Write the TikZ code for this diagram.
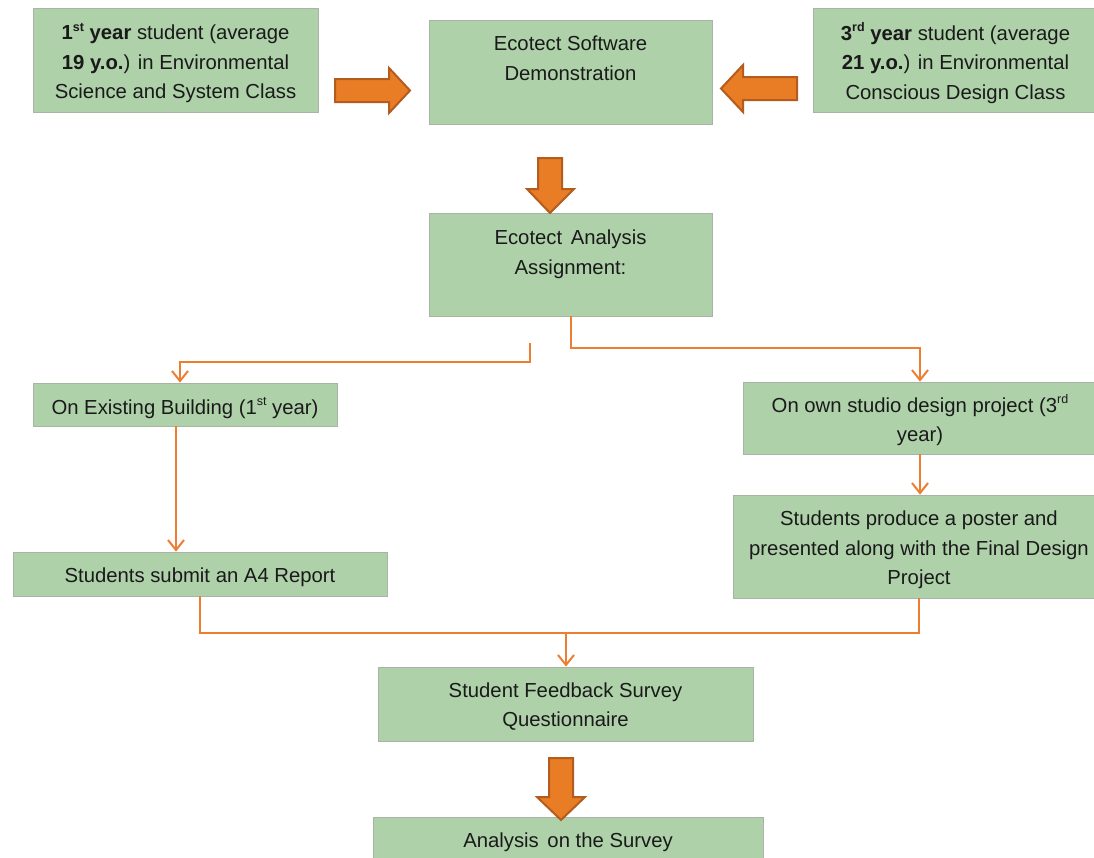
\documentclass[tikz,border=0pt]{standalone}
\usepackage{fontspec}
\setmainfont{Liberation Sans}
\usetikzlibrary{arrows.meta}
\definecolor{boxgreen}{HTML}{AED1A9}
\definecolor{boxedge}{HTML}{A8B5A5}
\definecolor{lineorange}{HTML}{ED7D31}
\definecolor{blockfill}{HTML}{E87D25}
\definecolor{blockedge}{HTML}{B35C1E}
\definecolor{txt}{HTML}{1A1A1A}
\newcommand{\supr}[1]{\raisebox{0.42em}{\fontsize{12.5}{12.5}\selectfont #1}}
\begin{document}
\begin{tikzpicture}[x=1pt,y=-1pt,
  box/.style={draw=boxedge, line width=0.8pt, fill=boxgreen, inner sep=0pt},
  lbl/.style={inner sep=0pt, align=center, text=txt, font=\fontsize{20.3}{29.5}\selectfont},
  conn/.style={draw=lineorange, line width=2pt, -{Straight Barb[length=10pt,width=16pt,line width=2pt]}},
  link/.style={draw=lineorange, line width=2pt},
  blockarrow/.style={fill=blockfill, draw=blockedge, line width=2pt, line join=miter}]
\useasboundingbox (0,0) rectangle (1094,857);
\fill[white] (0,0) rectangle (1094,857);
\clip (0,0) rectangle (1094,857);

\node[box, minimum width=285pt, minimum height=104pt] (b1) at (175.5,60) {};
\node[lbl] (b1t) at ([yshift=-3pt]b1.center) {\textbf{1\supr{st} year} student (average\\\textbf{19 y.o.}) in Environmental\\Science and System Class};
\node[box, minimum width=283pt, minimum height=104pt] (demo) at (570.5,72) {};
\node[lbl] (demot) at ([yshift=-5.5pt]demo.center) {Ecotect Software\\Demonstration\\\strut};
\node[box, minimum width=285pt, minimum height=104pt] (b3) at (955.5,60) {};
\node[lbl] (b3t) at ([yshift=-3pt]b3.center) {\textbf{3\supr{rd} year} student (average\\\textbf{21 y.o.}) in Environmental\\Conscious Design Class};
\node[box, minimum width=283pt, minimum height=103pt] (assign) at (570.5,264.5) {};
\node[lbl] (assignt) at ([yshift=-7pt]assign.center) {Ecotect\hspace{3pt} Analysis\\Assignment:\\\strut};
\node[box, minimum width=304pt, minimum height=43pt] (exist) at (185,404.5) {};
\node[lbl] (existt) at ([yshift=-3.5pt]exist.center) {On Existing Building (1\supr{st} year)};
\node[box, minimum width=354pt, minimum height=72pt] (own) at (920,418) {};
\node[lbl] (ownt) at ([yshift=-2.5pt]own.center) {On own studio design project (3\supr{rd}\\year)};
\node[box, minimum width=374pt, minimum height=44pt] (a4) at (200,574) {};
\node[lbl] (a4t) at ([yshift=-3.5pt]a4.center) {Students submit an A4 Report};
\node[box, minimum width=372pt, minimum height=103pt] (poster) at (919,546.5) {};
\node[lbl] (postert) at ([yshift=-3.5pt]poster.center) {Students produce a poster and\\presented along with the Final Design\\Project};
\node[box, minimum width=375pt, minimum height=74pt] (survey) at (565.5,704) {};
\node[lbl] (surveyt) at ([yshift=-2.5pt]survey.center) {Student Feedback Survey\\Questionnaire};
\node[box, minimum width=390pt, minimum height=44pt] (analysis) at (568,839) {};
\node[lbl] (analysist) at ([yshift=-3pt]analysis.center) {Analysis\hspace{3pt} on the Survey};

\coordinate (c1) at (530,343);
\draw[conn] (c1) -- ++(0,19) -| ([xshift=-5pt]exist.north);
\draw[conn] (assign.south) -- ++(0,32) -| (own.north);
\draw[conn] ([xshift=-9pt]exist.south) -- ([xshift=-9pt]exist.south |- a4.north);
\draw[conn] (own.south) -- (own.south |- poster.north);
\coordinate (jn) at (566,632.5);
\draw[link] (a4.south) |- (jn);
\draw[link] (poster.south) |- (jn);
\draw[conn] (jn) -- (jn |- survey.north);

\draw[blockarrow] (335,79) -- (389,79) -- (389,68) -- (410,90.5) -- (389,113) -- (389,102) -- (335,102) -- cycle;
\draw[blockarrow] (797,77) -- (743,77) -- (743,65) -- (721,88.5) -- (743,112) -- (743,100) -- (797,100) -- cycle;
\draw[blockarrow] (538,158) -- (562,158) -- (562,189) -- (574,189) -- (550,213) -- (527,189) -- (538,189) -- cycle;
\draw[blockarrow] (549,758) -- (573,758) -- (573,797) -- (585,797) -- (561,820) -- (537,797) -- (549,797) -- cycle;
\end{tikzpicture}
\end{document}
